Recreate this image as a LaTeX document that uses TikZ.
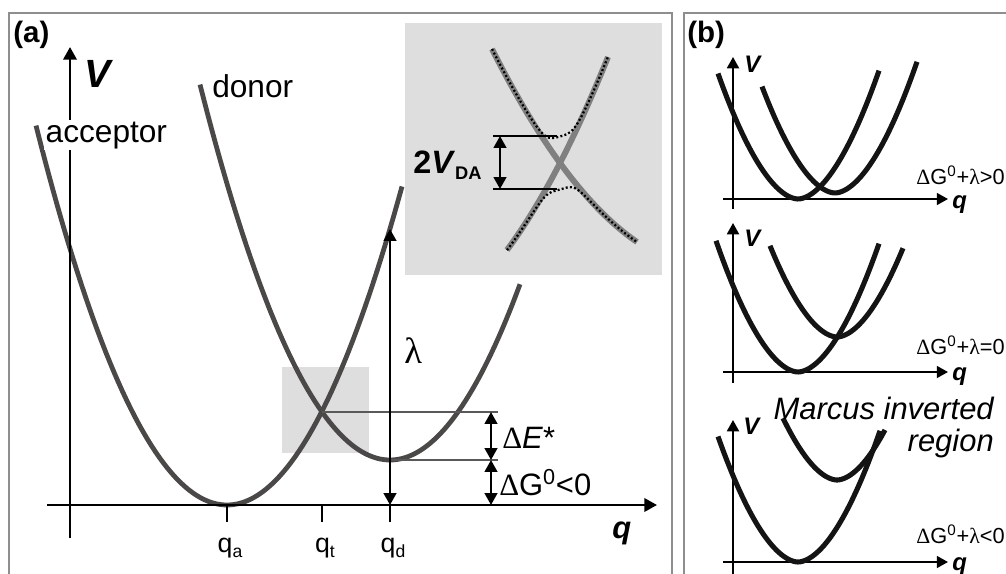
\documentclass[tikz,border=0pt]{standalone}
\usepackage{fontspec}
\setmainfont{Liberation Sans}
\newfontfamily\greekfont{Liberation Serif}
\usepackage{tikz}
\usetikzlibrary{arrows.meta, positioning, calc}
\usepackage{xcolor}

\definecolor{wellgray}{HTML}{4B4848}
\definecolor{crossgray}{HTML}{808080}
\definecolor{boxgray}{HTML}{DEDEDE}
\definecolor{framegray}{HTML}{8E8E8E}

\newcommand{\fsz}[1]{\fontsize{#1}{#1}\selectfont}
\newcommand{\Dl}{{\greekfont Δ}}
\newcommand{\lm}{{\greekfont λ}}
\newcommand{\qsub}[1]{q\raisebox{-0.22em}{\fsz{12.5pt}#1}}

% the two diabatic branches seen in the zoom window
\pgfmathdeclarefunction{brA}{1}{\pgfmathparse{163+1.371*(#1-560)-0.00449*(#1-560)^2}}
\pgfmathdeclarefunction{brB}{1}{\pgfmathparse{163-1.939*(#1-560)-0.00561*(#1-560)^2}}

% small well of panel (b): from, to, x of minimum, y of minimum
\newcommand{\wellb}[4]{\draw[bwell] plot[domain=#1:#2, samples=70] (\x, {#4-0.0471*pow(abs(\x-#3)+0.01,1.8)});}

\begin{document}
\begin{tikzpicture}[x=0.025cm, y=-0.025cm,
    well/.style={wellgray, line width=3.4pt},
    bwell/.style={black!92, line width=3.6pt},
    crossline/.style={crossgray, line width=4.2pt},
    dotcurve/.style={black, line width=1.6pt, dash pattern=on 1.4pt off 1.6pt},
    qvaxis/.style={black, line width=1.7pt, -{Triangle[length=9pt, width=9.5pt]}},
    baxis/.style={black, line width=1.4pt, -{Triangle[length=8pt, width=8.5pt]}},
    dimarrow/.style={black, line width=1.6pt, {Triangle[length=8.5pt, width=9pt]}-{Triangle[length=8.5pt, width=9pt]}},
    levelline/.style={black!65, line width=0.9pt},
    qtick/.style={black, line width=2pt},
    panelframe/.style={framegray, line width=1.3pt},
    lbl/.style={inner sep=0pt, anchor=base west}]
    \useasboundingbox (0,0) rectangle (1006,573);

    % Frames
    \draw[panelframe] (9,580) -- (9,13) -- (672,13) -- (672,580);
    \draw[panelframe] (684,580) -- (684,13) -- (1010,13);

    % ---------------- Panel (a) ----------------
    \node[lbl, font=\bfseries\fsz{21pt}] (taga) at (13,42) {(a)};

    % zoom window
    \fill[boxgray] (282,367) rectangle (369,453);

    % Wells
    \draw[well] plot[domain=36:402, samples=90] (\x, {505-1.04*((\x-227)/10)^2});
    \draw[well] plot[domain=200:520, samples=90] (\x, {460-1.04*((\x-390)/10)^2});

    % Axes
    \coordinate (Vbot) at (70,538);
    \coordinate (Vtop) at (70,47);
    \coordinate (qbeg) at (47,505);
    \coordinate (qend) at (657,505);
    \draw[qvaxis] (Vbot) -- (Vtop);
    \draw[qvaxis] (qbeg) -- (qend);
    \node[lbl, font=\bfseries\itshape\fsz{28pt}] (Vlbl) at (84,87) {V};
    \node[lbl, font=\bfseries\itshape\fsz{22pt}] (qlbl) at (612,538) {q};

    % Ticks
    \foreach \n/\xx in {a/227, t/322, d/390} {
        \coordinate (tk\n) at (\xx,505);
        \draw[qtick] (tk\n) -- ++(0,17);
        \node[inner sep=0pt, anchor=base, font=\fsz{19pt}] (q\n) at (\xx+3,552) {\qsub{\n}};
    }

    % Curve labels
    \node[lbl, fill=white, inner sep=1pt, font=\fsz{22.5pt}] (acclbl) at (44,142) {acceptor};
    \node[lbl, font=\fsz{22.5pt}] (donlbl) at (212,97) {donor};

    % Energy levels
    \coordinate (cross) at (322,412);
    \coordinate (dmin) at (390,460);
    \coordinate (dEend) at (498,412);
    \coordinate (dGend) at (498,460);
    \draw[levelline] (cross) -- (dEend);
    \draw[levelline] (dmin) -- (dGend);

    % Reorganisation energy
    \coordinate (lamtop) at (390,229);
    \coordinate (lambot) at (390,505);
    \draw[dimarrow] (lambot) -- (lamtop);
    \node[lbl, font=\fsz{26pt}] (lam) at (404,363) {\lm};

    % Barrier and driving force
    \coordinate (dEa) at (491,412);
    \coordinate (dEb) at (491,460);
    \coordinate (dGb) at (491,505);
    \draw[dimarrow] (dEa) -- (dEb);
    \draw[dimarrow] (dEb) -- (dGb);
    \node[lbl, font=\fsz{22pt}] (dE) at (502,448) {\Dl\textit{E}*};
    \node[lbl, font=\fsz{22pt}] (dG) at (499,495) {\Dl G\textsuperscript{0}<0};

    % Inset
    \fill[boxgray] (405,23) rectangle (662,275);
    \draw[crossline] plot[domain=492:637, samples=50] (\x, {brA(\x)});
    \draw[crossline] plot[domain=507:608, samples=50] (\x, {brB(\x)});
    \draw[dotcurve] plot[domain=492:608, samples=90] (\x, {(brA(\x)+brB(\x))/2-100*sqrt(sqrt((abs(brA(\x)-brB(\x))/200)^4+0.265^4))});
    \draw[dotcurve] plot[domain=507:637, samples=90] (\x, {(brA(\x)+brB(\x))/2+100*sqrt(sqrt((abs(brA(\x)-brB(\x))/200)^4+0.265^4))});
    \coordinate (gapA) at (493,136);
    \coordinate (gapB) at (493,189);
    \coordinate (gapAr) at (557,136);
    \coordinate (gapBr) at (557,189);
    \draw[black, line width=0.8pt] (gapA) -- (gapAr);
    \draw[black, line width=0.8pt] (gapB) -- (gapBr);
    \coordinate (gapup) at (500,136);
    \coordinate (gapdn) at (500,189);
    \draw[dimarrow] (gapup) -- (gapdn);
    \node[lbl, font=\bfseries\fsz{23pt}] (vda) at (413,173) {2\textit{V}\raisebox{-0.2em}{\fsz{13pt}DA}};

    % ---------------- Panel (b) ----------------
    \node[lbl, font=\bfseries\fsz{21pt}] (tagb) at (687,42) {(b)};

    % normal region
    \coordinate (Vb1) at (733,209);
    \coordinate (Vt1) at (733,57);
    \coordinate (qb1) at (723,199);
    \coordinate (qe1) at (948,199);
    \draw[baxis] (Vb1) -- (Vt1);
    \draw[baxis] (qb1) -- (qe1);
    \wellb{718}{879}{798}{199}
    \wellb{762}{917}{835}{193}
    \node[lbl, font=\bfseries\itshape\fsz{17pt}] (V1) at (744,72) {V};
    \node[lbl, font=\bfseries\itshape\fsz{17pt}] (q1) at (952,208) {q};
    \node[inner sep=0pt, anchor=base east, font=\fsz{15.5pt}] (dg1) at (1005,184) {\Dl G\textsuperscript{0}+\lm>0};

    % activationless
    \coordinate (Vb2) at (733,383);
    \coordinate (Vt2) at (733,223);
    \coordinate (qb2) at (723,372);
    \coordinate (qe2) at (948,372);
    \draw[baxis] (Vb2) -- (Vt2);
    \draw[baxis] (qb2) -- (qe2);
    \wellb{716}{879}{798}{372}
    \wellb{770}{903}{837}{337}
    \node[lbl, font=\bfseries\itshape\fsz{17pt}] (V2) at (744,246) {V};
    \node[lbl, font=\bfseries\itshape\fsz{17pt}] (q2) at (952,380) {q};
    \node[inner sep=0pt, anchor=base east, font=\fsz{15.5pt}] (dg2) at (1005,354) {\Dl G\textsuperscript{0}+\lm=0};

    % inverted region
    \coordinate (Vb3) at (733,580);
    \coordinate (Vt3) at (733,420);
    \coordinate (qb3) at (723,562);
    \coordinate (qe3) at (948,562);
    \draw[baxis] (Vb3) -- (Vt3);
    \draw[baxis] (qb3) -- (qe3);
    \wellb{718}{880}{798}{562}
    \wellb{783}{885}{837}{480}
    \node[lbl, font=\bfseries\itshape\fsz{17pt}] (V3) at (743,434) {V};
    \node[lbl, font=\bfseries\itshape\fsz{17pt}] (q3) at (952,570) {q};
    \node[inner sep=0pt, anchor=base east, font=\fsz{15.5pt}] (dg3) at (1005,543) {\Dl G\textsuperscript{0}+\lm<0};
    \node[inner sep=0pt, anchor=base east, font=\itshape\fsz{22pt}] (mir1) at (994,419) {Marcus inverted};
    \node[inner sep=0pt, anchor=base east, font=\itshape\fsz{22pt}] (mir2) at (994,451) {region};
\end{tikzpicture}
\end{document}
